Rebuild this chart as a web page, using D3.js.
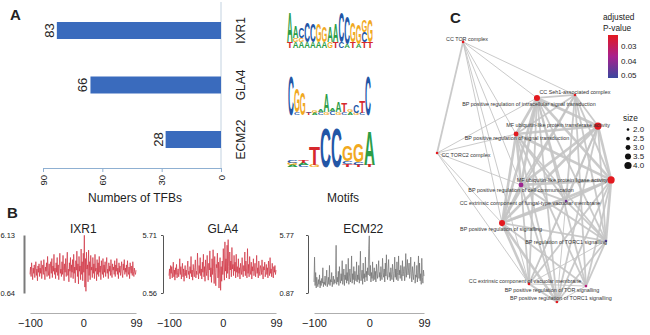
<!DOCTYPE html>
<html>
<head>
<meta charset="utf-8">
<script src="https://cdn.jsdelivr.net/npm/d3@7/dist/d3.min.js"></script>
<style>
  body { margin: 0; background: #fff; }
  svg { display: block; font-family: "Liberation Sans", Arial, sans-serif; }
</style>
</head>
<body>
<svg id="fig" width="650" height="335"></svg>
<script>
// ---- panel A data ----
var tfNames = ["IXR1", "GLA4", "ECM22"];
var tfbsCounts = [83, 66, 28];
var tfbsTicks = [0, 30, 60, 90];

// sequence logos: each column is a stack [letter, bits] from bottom to top
var motifIXR1 = [
  [["T",0.3],["A",1.5]], [["A",0.3],["G",0.2],["A",0.6]], [["A",0.3],["G",0.2],["C",0.5]],
  [["A",0.3],["C",1.0]], [["A",0.3],["C",0.9]], [["A",0.3],["G",0.9]], [["A",0.3],["G",0.8]],
  [["G",0.3],["A",0.8]], [["T",0.3],["A",0.9]], [["C",0.3],["C",1.5]], [["A",0.2],["C",1.4]],
  [["T",0.3],["G",1.0]], [["A",0.2],["G",1.0]], [["T",0.3],["C",0.5],["G",0.6]], [["T",0.3],["G",1.1]]
];
var motifGLA4 = [
  [["C",2.0]], [["C",0.15],["G",1.2]], [["G",1.1]], [["T",0.1],["C",0.08]], [["A",0.1],["G",0.1]],
  [["C",0.15],["A",0.1]], [["G",0.15],["A",0.9]], [["C",0.2],["A",0.15]], [["G",0.15],["A",0.5]],
  [["C",0.15],["T",0.45]], [["A",0.15],["G",0.1]], [["G",0.1],["C",0.4]], [["C",0.1],["T",0.6]], [["C",2.0]]
];
var motifECM22 = [
  [["A",0.1],["G",0.1],["C",0.1]], [["C",0.1],["A",0.1],["T",0.15]], [["G",0.1],["T",0.9]],
  [["C",2.0]], [["C",2.0]], [["T",0.15],["C",0.15],["G",0.8]], [["T",0.1],["C",0.15],["G",0.95]],
  [["T",0.1],["A",1.7]]
];

// ---- panel B data (positions -100..99) ----
var profileIXR1 = [
  2.4,3.1,2.2,3.5,2.7,1.9,3.0,2.5,3.3,2.1,2.8,3.6,2.3,2.9,1.8,3.2,2.6,3.4,2.2,3.0,
  2.5,3.7,2.0,2.9,3.3,2.4,3.8,2.6,1.9,3.1,2.7,3.5,2.2,4.1,2.8,2.3,3.4,2.0,3.0,3.6,
  2.5,3.9,2.1,3.2,2.7,4.3,2.4,3.0,2.0,3.5,2.6,4.0,2.3,3.3,1.9,3.1,4.4,2.5,2.9,2.2,
  3.6,2.4,4.2,2.8,1.8,3.4,2.6,3.9,2.2,3.1,4.5,2.3,2.9,1.7,3.5,2.7,4.0,2.1,3.3,2.6,
  3.8,2.0,4.3,2.5,3.1,1.6,3.7,2.8,4.6,2.2,3.4,1.5,4.1,2.7,3.2,1.9,4.8,2.4,3.6,1.8,
  4.4,2.6,6.1,1.2,3.9,0.8,4.5,2.9,3.3,1.7,4.7,2.3,3.6,1.9,4.2,2.8,3.1,2.1,4.0,2.5,
  3.4,2.0,4.3,2.7,3.0,1.8,3.8,2.4,3.5,2.2,4.1,2.6,3.2,1.9,3.7,2.8,2.4,3.9,2.1,3.3,
  2.6,3.6,2.2,3.0,4.0,2.5,2.9,2.0,3.5,2.7,3.2,2.3,3.8,2.6,2.1,3.4,2.8,3.1,2.4,3.7,
  2.2,3.3,2.7,3.9,2.4,3.0,2.0,3.5,2.6,3.2,2.3,2.9,3.6,2.5,2.1,3.4,2.8,3.8,2.4,3.0,
  2.6,3.3,2.2,3.7,2.7,2.4,3.1,2.0,3.5,2.8,2.5,3.2,2.3,3.6,2.7,2.2,3.0,2.6,2.4,2.8
];
var profileGLA4 = [
  2.1,2.7,1.8,3.0,2.3,2.9,1.9,2.5,3.3,2.0,2.6,1.7,2.8,2.2,3.1,1.9,2.4,2.7,2.0,2.5,
  3.6,2.2,2.9,1.8,2.5,3.2,2.0,2.7,1.6,2.4,3.0,2.1,2.6,1.9,2.8,3.4,2.2,2.5,1.8,2.9,
  2.3,3.8,2.0,2.6,1.7,3.1,2.4,2.0,2.8,3.5,1.9,2.5,2.2,4.1,2.6,1.8,3.0,2.3,3.7,2.1,
  2.7,1.8,3.3,2.4,4.0,2.0,2.9,1.6,3.5,2.5,2.1,3.9,2.3,1.7,3.2,2.6,4.3,2.0,2.8,1.5,
  3.6,2.2,4.4,2.7,1.4,3.8,2.4,1.2,3.1,2.8,4.1,1.9,3.3,1.0,2.6,3.7,0.8,2.9,1.6,3.4,
  2.2,4.5,2.8,1.7,5.1,2.5,3.6,1.9,4.8,2.3,5.3,2.9,1.8,4.2,2.6,3.4,2.0,4.6,2.7,3.1,
  2.1,3.9,2.5,3.3,1.9,4.0,2.4,2.9,2.0,3.6,2.3,2.8,1.8,3.2,2.6,2.2,3.7,2.4,2.0,3.0,
  2.5,4.2,2.1,3.4,2.7,1.9,4.5,2.3,3.1,2.0,3.8,2.6,2.2,3.3,1.8,2.9,2.5,3.6,2.1,2.7,
  3.2,2.0,2.6,3.9,2.3,2.8,1.9,3.4,2.5,2.1,3.0,2.7,2.2,3.5,2.4,1.8,2.9,2.6,3.3,2.0,
  2.5,3.1,2.2,2.8,1.9,3.4,2.6,2.1,3.7,2.3,2.7,2.0,3.2,2.5,1.9,2.9,2.4,3.0,2.2,2.6
];
var profileECM22 = [
  1.8,3.9,1.5,2.6,1.3,2.2,1.7,1.4,2.0,1.6,2.4,1.3,1.9,1.5,2.1,1.7,3.0,1.4,1.8,1.6,
  2.3,1.5,1.9,2.8,1.4,1.7,2.2,1.6,3.2,1.5,2.0,1.8,2.6,1.4,1.9,2.3,1.6,2.0,1.7,2.4,
  4.9,1.6,2.2,1.8,2.7,1.5,3.1,2.0,1.7,2.5,1.9,3.6,1.6,2.2,2.9,1.5,2.4,2.0,3.3,1.7,
  2.6,1.9,3.8,1.6,2.3,2.9,1.8,2.2,4.0,1.7,2.5,2.0,3.1,1.6,2.7,2.2,1.9,3.5,1.8,2.4,
  2.0,3.2,1.7,2.6,4.4,1.9,2.3,2.8,1.6,3.4,2.1,2.5,1.8,3.9,2.2,2.7,1.9,3.0,2.4,4.6,
  5.7,2.3,3.2,1.8,2.6,2.1,3.5,1.9,2.4,3.0,2.0,2.7,1.8,3.3,2.5,2.1,2.9,3.6,2.2,2.6,
  1.9,3.1,2.4,2.0,3.8,2.6,2.2,2.9,1.8,3.4,2.3,4.1,2.5,2.0,2.8,3.7,2.2,2.6,1.9,3.0,
  2.4,2.0,3.3,2.7,1.8,2.5,3.9,2.2,2.9,2.0,3.5,2.6,1.9,4.0,2.4,2.8,2.1,3.2,2.5,1.9,
  3.6,2.3,2.7,3.1,1.9,2.5,4.2,2.2,3.0,3.7,2.4,2.8,3.4,2.1,2.6,3.9,2.3,1.8,3.1,2.5,
  2.0,2.9,3.5,1.7,2.4,2.2,3.2,1.8,2.6,4.0,2.1,3.4,1.9,2.5,1.6,3.8,2.2,1.7,2.8,2.3
];
var profileRanges = [[0.64, 6.13], [0.56, 5.71], [0.87, 5.77]];
var profileTicks = [-100, 0, 99];

// ---- panel C data ----
var termNames = [
  "CC TOR complex",
  "CC Seh1-associated complex",
  "BP positive regulation of intracellular signal transduction",
  "MF ubiquitin-like protein transferase activity",
  "BP positive regulation of signal transduction",
  "CC TORC2 complex",
  "MF ubiquitin-like protein ligase activity",
  "BP positive regulation of cell communication",
  "CC extrinsic component of fungal-type vacuolar membrane",
  "BP positive regulation of signalling",
  "BP regulation of TORC1 signalling",
  "CC extrinsic component of vacuolar membrane",
  "BP positive regulation of TOR signalling",
  "BP positive regulation of TORC1 signalling"
];
var termPadj = [0.03, 0.03, 0.03, 0.03, 0.03, 0.03, 0.03, 0.041, 0.045, 0.03, 0.048, 0.03, 0.038, 0.03];
var termSize = [2.0, 2.0, 3.5, 4.0, 3.0, 2.0, 4.0, 3.0, 2.0, 3.5, 2.0, 2.0, 2.0, 2.0];
// edges: [source, target, similarity weight]
var termLinks = [
  [0,5,2],[0,2,1],[0,4,1],[0,7,1],[0,9,1],[0,11,1],[0,1,1],
  [5,2,1],[5,4,1],[5,7,1],[5,9,1],[5,11,1],
  [2,3,3],[2,4,3],[2,6,3],[2,7,3],[2,9,3],[2,1,2],[2,10,2],[2,11,2],[2,12,2],[2,13,2],[2,8,2],
  [3,4,3],[3,6,3],[3,7,3],[3,9,3],[3,1,2],[3,10,2],[3,11,2],[3,13,2],[3,8,2],
  [4,6,3],[4,7,3],[4,9,3],[4,1,2],[4,10,2],[4,12,2],[4,13,2],[4,8,2],
  [6,7,3],[6,9,3],[6,1,2],[6,10,3],[6,11,2],[6,12,2],[6,13,2],[6,8,2],
  [7,9,3],[7,1,2],[7,10,2],[7,11,2],[7,13,2],[7,8,2],
  [9,1,2],[9,10,2],[9,11,3],[9,12,2],[9,13,3],[9,8,2],
  [1,10,2],[1,12,2],[1,8,2],
  [8,10,2],[8,11,1],[8,13,1],
  [10,11,1],[10,12,2],[10,13,2],
  [11,12,1],[11,13,2],[12,13,1]
];
var legendPadj = [0.03, 0.04, 0.05];
var legendSizes = [2.0, 2.5, 3.0, 3.5, 4.0];

// network layout (normalised 0..1 coordinates)
var layoutNode = [[0.174,0.025],[0.763,0.218],[0.563,0.229],[0.884,0.331],[0.453,0.360],[0.037,0.429],
  [0.953,0.527],[0.479,0.545],[0.716,0.604],[0.379,0.684],[0.926,0.749],[0.521,0.905],[0.821,0.913],[0.668,0.971]];
var layoutLabel = [[0.195,0.015],[0.763,0.207],[0.521,0.251],[0.674,0.327],[0.458,0.375],[0.189,0.436],
  [0.695,0.527],[0.479,0.564],[0.526,0.611],[0.374,0.705],[0.716,0.753],[0.500,0.895],[0.642,0.927],[0.689,0.956]];

var svg = d3.select("#fig");
var ink = "#222";

function panelLetter(t, x, y) {
  svg.append("text").attr("x", x).attr("y", y).text(t)
    .style("font-size", "15px").style("font-weight", "bold").attr("fill", ink);
}
panelLetter("A", 10, 20);
panelLetter("B", 7, 218);
panelLetter("C", 450, 23);

// ================= A: bars =================
var x = d3.scaleLinear().domain([0, 90]).range([221, 43]);
var y = d3.scalePoint().domain(tfNames).range([30.5, 139.5]);
var barH = 17;
var axisBlue = "#8fb0d2";

var gA = svg.append("g");
gA.append("line").attr("x1", x(0)).attr("x2", x(0)).attr("y1", 2).attr("y2", 168)
  .attr("stroke", "#c3d2e0").attr("stroke-width", 1);

gA.selectAll(".bar").data(tfNames).enter().append("rect")
  .attr("class", "bar")
  .attr("x", function(d, i) { return x(tfbsCounts[i]); })
  .attr("y", function(d) { return y(d) - barH / 2; })
  .attr("width", function(d, i) { return x(0) - x(tfbsCounts[i]); })
  .attr("height", barH)
  .attr("fill", "#3a6bbd");

gA.selectAll(".val").data(tfNames).enter().append("text")
  .attr("transform", function(d, i) { return "translate(" + (x(tfbsCounts[i]) - 3) + "," + y(d) + ") rotate(-90)"; })
  .attr("text-anchor", "middle")
  .style("font-size", "13px").attr("fill", ink)
  .text(function(d, i) { return tfbsCounts[i]; });

gA.selectAll(".cat").data(tfNames).enter().append("text")
  .attr("transform", function(d) { return "translate(245," + y(d) + ") rotate(-90)"; })
  .attr("text-anchor", "middle")
  .style("font-size", "12px").attr("fill", ink)
  .text(function(d) { return d; });

var ax = gA.append("g").attr("transform", "translate(0,168)")
  .call(d3.axisBottom(x).tickValues(tfbsTicks).tickSize(4).tickSizeOuter(0));
ax.select(".domain").attr("stroke", axisBlue);
ax.selectAll(".tick line").attr("stroke", axisBlue);
ax.selectAll(".tick text")
  .attr("transform", "rotate(-90)")
  .attr("x", -7).attr("y", 0).attr("dy", "0.35em")
  .attr("text-anchor", "end")
  .style("font-size", "9.5px").style("font-family", "Liberation Sans, Arial, sans-serif").attr("fill", ink);

gA.append("text").attr("x", 135).attr("y", 202).attr("text-anchor", "middle")
  .style("font-size", "12px").attr("fill", ink).text("Numbers of TFBs");
gA.append("text").attr("x", 343).attr("y", 202).attr("text-anchor", "middle")
  .style("font-size", "12px").attr("fill", ink).text("Motifs");

// sequence logos
var letterColor = { A: "#2b9d47", C: "#2356a6", G: "#f1a91f", T: "#d6282d" };
var letterAdv = { A: 72.2, C: 72.2, G: 77.8, T: 61.1 };
var motifs = [motifIXR1, motifGLA4, motifECM22];
var logoSpan = [[287, 373], [288, 371], [287, 375]];
var logoBase = [48, 115, 167];

motifs.forEach(function(cols, mi) {
  var xb = d3.scaleBand().domain(d3.range(cols.length)).range(logoSpan[mi]);
  var yb = d3.scaleLinear().domain([0, 2]).range([logoBase[mi], logoBase[mi] - 40]);
  var g = svg.append("g");
  cols.forEach(function(col, ci) {
    var acc = 0;
    col.forEach(function(l) {
      var h = yb(acc) - yb(acc + l[1]);
      g.append("text")
        .attr("transform", "translate(" + xb(ci) + "," + yb(acc) + ") scale(" +
          (xb.bandwidth() / letterAdv[l[0]]) + "," + (h / 71.6) + ")")
        .style("font-size", "100px").style("font-weight", "bold")
        .attr("fill", letterColor[l[0]])
        .text(l[0]);
      acc += l[1];
    });
  });
});

// ================= B: profiles =================
var profiles = [profileIXR1, profileGLA4, profileECM22];
var profX = [[30, 136], [169, 276], [314, 424]];
var profColor = ["#cf3343", "#cf3343", "#707070"];
var yPad = [9, 4, 12];
var titleShift = [0, 0, -6];

profiles.forEach(function(vals, i) {
  var px = d3.scaleLinear().domain([-100, 99]).range(profX[i]);
  var py = d3.scaleLinear().domain(profileRanges[i]).range([293, 235]);
  var g = svg.append("g");

  g.append("text").attr("x", px(0) + titleShift[i]).attr("y", 233).attr("text-anchor", "middle")
    .style("font-size", "12px").attr("fill", ink).text(tfNames[i]);

  var ya = g.append("g").attr("transform", "translate(" + (profX[i][0] - 6) + ",0)")
    .call(d3.axisLeft(py).tickValues(profileRanges[i]).tickFormat(d3.format(".2f"))
      .tickSize(i === 0 ? 0 : 2).tickSizeOuter(0).tickPadding(yPad[i]));
  ya.select(".domain").attr("stroke", i === 0 ? "#7a7a7a" : "#555").attr("stroke-width", i === 0 ? 2 : 1);
  ya.selectAll(".tick line").attr("stroke", "#555");
  ya.selectAll(".tick text").style("font-size", "7.5px").style("font-family", "Liberation Sans, Arial, sans-serif").attr("fill", ink);

  var xa = g.append("g").attr("transform", "translate(0,313)")
    .call(d3.axisBottom(px).tickValues(profileTicks).tickSize(0).tickPadding(6));
  xa.select(".domain").attr("stroke", "#999").attr("stroke-width", 0.8);
  xa.selectAll(".tick text").style("font-size", "11px").style("font-family", "Liberation Sans, Arial, sans-serif").attr("fill", ink);

  var line = d3.line()
    .x(function(d, k) { return px(k - 100); })
    .y(function(d) { return py(d); });
  g.append("path").datum(vals).attr("d", line)
    .attr("fill", "none").attr("stroke", profColor[i])
    .attr("stroke-width", 0.8).attr("stroke-opacity", 0.9);
});

// ================= C: network =================
var nx = d3.scaleLinear().domain([0, 1]).range([430, 620]);
var ny = d3.scaleLinear().domain([0, 1]).range([35, 310]);
var pColor = d3.scaleLinear().domain(legendPadj).range(["#e3191f", "#a8218e", "#3a479e"]).clamp(true);
var rScale = d3.scaleLinear().domain([2, 4]).range([1.3, 3.6]);
var wScale = d3.scaleLinear().domain([1, 3]).range([1.0, 2.6]);

var gC = svg.append("g");
gC.selectAll(".link").data(termLinks).enter().append("line")
  .attr("x1", function(d) { return nx(layoutNode[d[0]][0]); })
  .attr("y1", function(d) { return ny(layoutNode[d[0]][1]); })
  .attr("x2", function(d) { return nx(layoutNode[d[1]][0]); })
  .attr("y2", function(d) { return ny(layoutNode[d[1]][1]); })
  .attr("stroke", "#c4c4c4")
  .attr("stroke-width", function(d) { return wScale(d[2]); })
  .attr("stroke-opacity", 0.9);

gC.selectAll(".node").data(termNames).enter().append("circle")
  .attr("cx", function(d, i) { return nx(layoutNode[i][0]); })
  .attr("cy", function(d, i) { return ny(layoutNode[i][1]); })
  .attr("r", function(d, i) { return rScale(termSize[i]); })
  .attr("fill", function(d, i) { return pColor(termPadj[i]); });

gC.selectAll(".lab").data(termNames).enter().append("text")
  .attr("x", function(d, i) { return nx(layoutLabel[i][0]); })
  .attr("y", function(d, i) { return ny(layoutLabel[i][1]); })
  .attr("dy", "0.35em").attr("text-anchor", "middle")
  .style("font-size", "5.4px").attr("fill", "#333")
  .text(function(d) { return d; });

// colour legend
var defs = svg.append("defs");
var grad = defs.append("linearGradient").attr("id", "pgrad")
  .attr("x1", 0).attr("y1", 0).attr("x2", 0).attr("y2", 1);
legendPadj.forEach(function(p, i) {
  grad.append("stop").attr("offset", i / (legendPadj.length - 1)).attr("stop-color", pColor(p));
});
var lg = svg.append("g");
lg.append("text").attr("x", 603).attr("y", 20).style("font-size", "8.3px").attr("fill", ink).text("adjusted");
lg.append("text").attr("x", 603).attr("y", 31).style("font-size", "8.3px").attr("fill", ink).text("P-value");
var lp = d3.scaleLinear().domain([0.03, 0.05]).range([46.5, 75.5]);
lg.append("rect").attr("x", 608).attr("y", 35).attr("width", 10).attr("height", 43).attr("fill", "url(#pgrad)");
lg.selectAll(".pl").data(legendPadj).enter().append("text")
  .attr("x", 621).attr("y", function(d) { return lp(d); }).attr("dy", "0.35em")
  .style("font-size", "8px").attr("fill", ink)
  .text(function(d) { return d.toFixed(2); });

// size legend
lg.append("text").attr("x", 623).attr("y", 121).style("font-size", "8.3px").attr("fill", ink).text("size");
var ls = d3.scalePoint().domain(legendSizes).range([129.5, 165.5]);
lg.selectAll(".sd").data(legendSizes).enter().append("circle")
  .attr("cx", 628).attr("cy", function(d) { return ls(d); })
  .attr("r", function(d) { return rScale(d); }).attr("fill", "#111");
lg.selectAll(".st").data(legendSizes).enter().append("text")
  .attr("x", 633).attr("y", function(d) { return ls(d); }).attr("dy", "0.35em")
  .style("font-size", "8px").attr("fill", ink)
  .text(function(d) { return d.toFixed(1); });
</script>
</body>
</html>
